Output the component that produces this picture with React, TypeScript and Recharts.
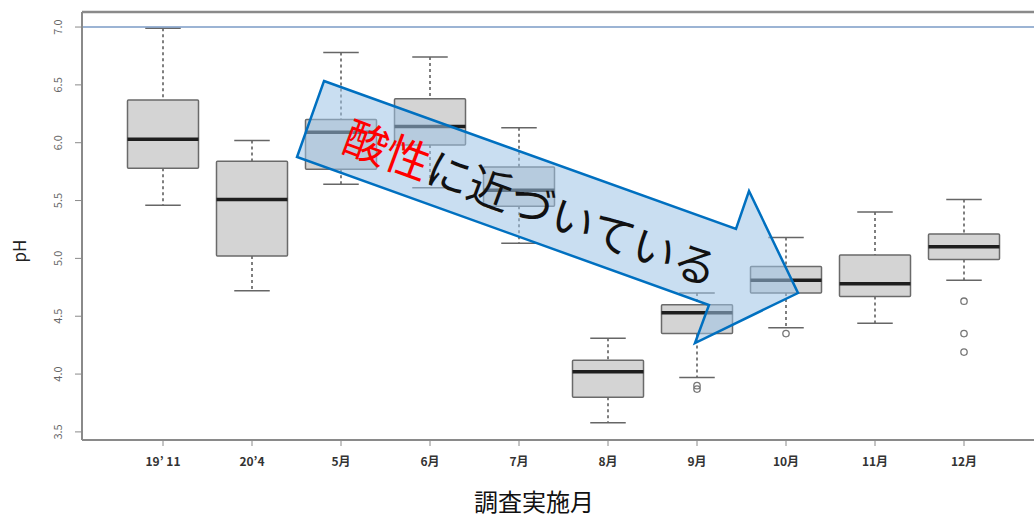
import React from 'react'
import { Bar, ComposedChart, ReferenceLine, XAxis, YAxis } from 'recharts'

// 調査月ごとの pH 箱ひげ図
const months = ['19’ 11', '20’4', '5月', '6月', '7月', '8月', '9月', '10月', '11月', '12月']
const whiskerLow = [5.46, 4.72, 5.64, 5.61, 5.13, 3.58, 3.97, 4.4, 4.44, 4.81]
const q1 = [5.78, 5.02, 5.77, 5.98, 5.45, 3.8, 4.35, 4.7, 4.67, 4.99]
const median = [6.03, 5.51, 6.09, 6.14, 5.59, 4.02, 4.53, 4.81, 4.78, 5.1]
const q3 = [6.37, 5.84, 6.2, 6.38, 5.79, 4.12, 4.6, 4.93, 5.03, 5.21]
const whiskerHigh = [6.99, 6.02, 6.78, 6.74, 6.13, 4.31, 4.7, 5.18, 5.4, 5.51]
const outliers: number[][] = [[], [], [], [], [], [], [3.9, 3.87], [4.35], [], [4.63, 4.35, 4.19]]
const yTicks = [3.5, 4.0, 4.5, 5.0, 5.5, 6.0, 6.5, 7.0]
const yDomain: [number, number] = [3.43, 7.13]

const data = months.map((m, i) => ({
  month: m,
  lo: whiskerLow[i],
  q1: q1[i],
  med: median[i],
  q3: q3[i],
  hi: whiskerHigh[i],
  out: outliers[i],
}))

const FONT = '"Noto Sans CJK JP", "Noto Sans", sans-serif'
const AXIS = '#8a8a8a'

function BoxShape(props: any) {
  const { x, y, width, height } = props
  const d = props.payload ?? props
  const top = Math.min(y, y + height)
  const bottom = Math.max(y, y + height)
  const k = (bottom - top) / (d.hi - d.lo)
  const Y = (v: number) => bottom - (v - d.lo) * k
  const cx = x + width / 2
  const cap = width * 0.5
  return (
    <g>
      <line x1={cx} x2={cx} y1={Y(d.hi)} y2={Y(d.q3)} stroke="#555" strokeWidth={1.5} strokeDasharray="3 3" />
      <line x1={cx} x2={cx} y1={Y(d.q1)} y2={Y(d.lo)} stroke="#555" strokeWidth={1.5} strokeDasharray="3 3" />
      <line x1={cx - cap / 2} x2={cx + cap / 2} y1={Y(d.hi)} y2={Y(d.hi)} stroke="#666" strokeWidth={1.5} />
      <line x1={cx - cap / 2} x2={cx + cap / 2} y1={Y(d.lo)} y2={Y(d.lo)} stroke="#666" strokeWidth={1.5} />
      <rect x={x} y={Y(d.q3)} width={width} height={Y(d.q1) - Y(d.q3)} fill="#d4d4d4" stroke="#6a6a6a" strokeWidth={1.5} rx={1} />
      <line x1={x} x2={x + width} y1={Y(d.med)} y2={Y(d.med)} stroke="#1e1e1e" strokeWidth={3.5} />
      {d.out.map((v: number, j: number) => (
        <circle key={j} cx={cx} cy={Y(v)} r={3.2} fill="none" stroke="#777" strokeWidth={1.3} />
      ))}
    </g>
  )
}

function YTick({ x, y, payload }: any) {
  const tx = x - 16
  return (
    <text x={tx} y={y} transform={`rotate(-90, ${tx}, ${y})`} textAnchor="middle" dominantBaseline="central"
      fontSize={11} fill="#666" fontFamily={FONT}>
      {Number(payload.value).toFixed(1)}
    </text>
  )
}

function XTick({ x, y, payload }: any) {
  return (
    <text x={x} y={y + 12} textAnchor="middle" dominantBaseline="central" fontSize={12} fill="#333"
      fontFamily={FONT} fontWeight={600}>
      {payload.value}
    </text>
  )
}

function XTitle({ viewBox }: any) {
  return (
    <text x={viewBox.x + 452} y={viewBox.y + 60} textAnchor="middle" dominantBaseline="central"
      fontSize={24} fill="#111" fontFamily={FONT}>
      調査実施月
    </text>
  )
}

function YTitle({ viewBox }: any) {
  const cx = viewBox.x + 18
  const cy = viewBox.y + viewBox.height / 2 + 25
  return (
    <text x={cx} y={cy} transform={`rotate(-90, ${cx}, ${cy})`} textAnchor="middle" dominantBaseline="central"
      fontSize={17} fill="#222" fontFamily={FONT}>
      pH
    </text>
  )
}

export default function App() {
  return (
    <div style={{ position: 'fixed', left: 0, top: 0, width: 1034, height: 518, overflow: 'hidden', background: '#fff' }}>
      <ComposedChart width={1060} height={518} data={data} margin={{ top: 12, right: 0, bottom: 0, left: 0 }}>
        <XAxis dataKey="month" height={78} padding={{ left: 36.5, right: 51.5 }} interval={0}
          axisLine={{ stroke: AXIS, strokeWidth: 2 }} tickLine={{ stroke: AXIS }} tickSize={6} tick={<XTick />}
          label={<XTitle />} />
        <YAxis type="number" domain={yDomain} ticks={yTicks} width={82} allowDataOverflow
          axisLine={{ stroke: AXIS, strokeWidth: 2 }} tickLine={{ stroke: AXIS }} tickSize={7} tick={<YTick />}
          label={<YTitle />} />
        {/* plot frame, top edge */}
        <ReferenceLine y={yDomain[1]} stroke={AXIS} strokeWidth={2.5} />
        <ReferenceLine y={7} stroke="#7b9bc6" strokeWidth={1.5} />
        <Bar dataKey={(d: any) => [d.lo, d.hi]} barSize={71} shape={<BoxShape />} isAnimationActive={false} />
      </ComposedChart>
      <svg width={1034} height={518} style={{ position: 'absolute', left: 0, top: 0, pointerEvents: 'none' }}>
        <polygon points="324,81 736,229 749,191 798,293 695,343 709,305 297,157"
          fill="#9DC3E6" fillOpacity={0.55} stroke="#0070C0" strokeWidth={2.5} strokeLinejoin="miter" />
        <text x={532} y={201} transform="rotate(20.3, 532, 201)" textAnchor="middle" dominantBaseline="central"
          fontSize={44} fontFamily={FONT}>
          <tspan fill="#ff0000">酸性</tspan>
          <tspan fill="#111">に近づいている</tspan>
        </text>
      </svg>
    </div>
  )
}
